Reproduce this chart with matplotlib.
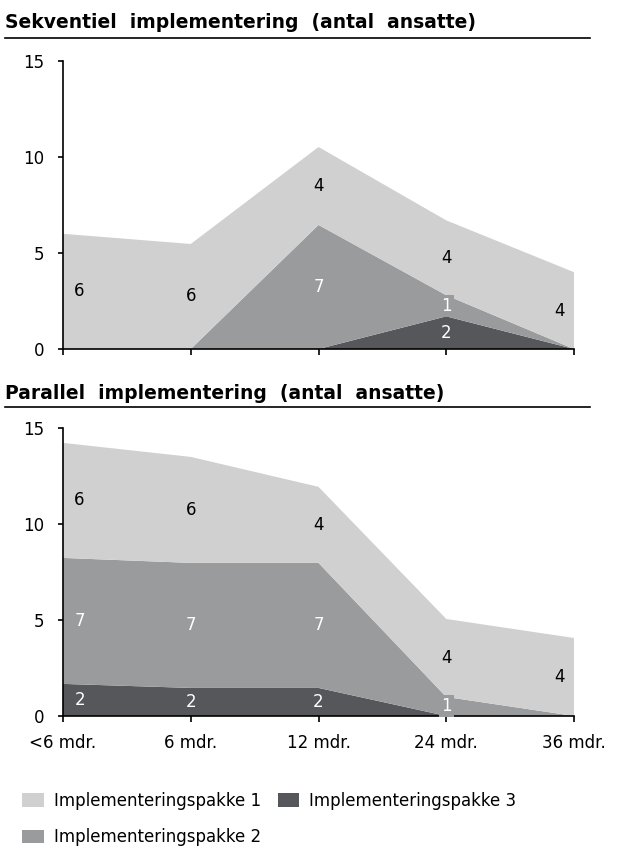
import matplotlib.pyplot as plt
from matplotlib.lines import Line2D
from matplotlib.patches import Patch

plt.rcParams['font.family'] = ['DejaVu Sans']

categories = ['<6 mdr.', '6 mdr.', '12 mdr.', '24 mdr.', '36 mdr.']
series_names = ['Implementeringspakke 1', 'Implementeringspakke 2', 'Implementeringspakke 3']
colors = ['#d0d0d0', '#9a9b9d', '#55575b']
label_colors = ['black', 'white', 'white']

# sequential: heights per series (drawn stacked: pakke 3 at bottom)
seq_p1 = [6.0, 5.47, 4.06, 3.9, 4.0]
seq_p2 = [0, 0, 6.46, 1.1, 0]
seq_p3 = [0, 0, 0, 1.7, 0]
seq_lab1 = ['6', '6', '4', '4', '4']
seq_lab2 = ['', '', '7', '1', '']
seq_lab3 = ['', '', '', '2', '']

# parallel
par_p1 = [5.99, 5.52, 3.96, 4.06, 4.06]
par_p2 = [6.56, 6.51, 6.51, 0.99, 0]
par_p3 = [1.67, 1.46, 1.46, 0, 0]
par_lab1 = ['6', '6', '4', '4', '4']
par_lab2 = ['7', '7', '7', '1', '']
par_lab3 = ['2', '2', '2', '', '']

fig = plt.figure(figsize=(6.27, 8.49), dpi=100)


def draw_panel(ax, p1, p2, p3, labs1, labs2, labs3, show_xlabels):
    x = list(range(len(categories)))
    ax.stackplot(x, p3, p2, p1, colors=[colors[2], colors[1], colors[0]], linewidth=0)
    ax.set_xlim(0, len(categories) - 1)
    ax.set_ylim(0, 15)
    ax.set_yticks([0, 5, 10, 15])
    ax.set_xticks(x)
    if show_xlabels:
        ax.set_xticklabels(categories)
    else:
        ax.set_xticklabels([])
    for s in ['top', 'right']:
        ax.spines[s].set_visible(False)
    ax.spines['left'].set_linewidth(1.2)
    ax.spines['bottom'].set_linewidth(1.2)
    ax.tick_params(axis='y', length=3.5, width=1.2, pad=10, labelsize=12)
    ax.tick_params(axis='x', length=4, width=1.2, pad=9, labelsize=12)

    # data labels in the middle of every band
    bands = [(p3, labs3, 2), (p2, labs2, 1), (p1, labs1, 0)]
    base = [0.0] * len(x)
    for vals, labs, k in bands:
        for i in x:
            if labs[i]:
                xi = i
                if i == 0:
                    xi = 0.13
                elif i == len(x) - 1:
                    xi = i - 0.11
                ax.text(xi, base[i] + vals[i] / 2, labs[i], ha='center', va='center',
                        fontsize=12, color=label_colors[k],
                        bbox=dict(boxstyle='square,pad=0.12', fc=colors[k], ec='none'))
        base = [b + v for b, v in zip(base, vals)]


ax1 = fig.add_axes([0.1005, 0.5889, 0.815, 0.3393])
draw_panel(ax1, seq_p1, seq_p2, seq_p3, seq_lab1, seq_lab2, seq_lab3, False)
ax2 = fig.add_axes([0.1005, 0.1567, 0.815, 0.3393])
draw_panel(ax2, par_p1, par_p2, par_p3, par_lab1, par_lab2, par_lab3, True)

# titles with rule below
fig.text(5 / 627, 1 - 28 / 849, 'Sekventiel  implementering  (antal  ansatte)',
         fontsize=13.5, fontweight='bold', ha='left', va='baseline')
fig.add_artist(Line2D([5 / 627, 590 / 627], [1 - 38 / 849] * 2, color='black', lw=1.2))
fig.text(5 / 627, 1 - 399 / 849, 'Parallel  implementering  (antal  ansatte)',
         fontsize=13.5, fontweight='bold', ha='left', va='baseline')
fig.add_artist(Line2D([5 / 627, 590 / 627], [1 - 407 / 849] * 2, color='black', lw=1.2))

handles = [Patch(facecolor=c, edgecolor='none') for c in colors]
fig.legend(handles, series_names, loc='upper left', bbox_to_anchor=(0.025, 0.075),
           ncol=2, frameon=False, fontsize=12, handlelength=1.3, handleheight=0.9,
           handletextpad=0.6, columnspacing=1.0, labelspacing=1.1, borderaxespad=0)

fig.savefig('out.png', dpi=100)
